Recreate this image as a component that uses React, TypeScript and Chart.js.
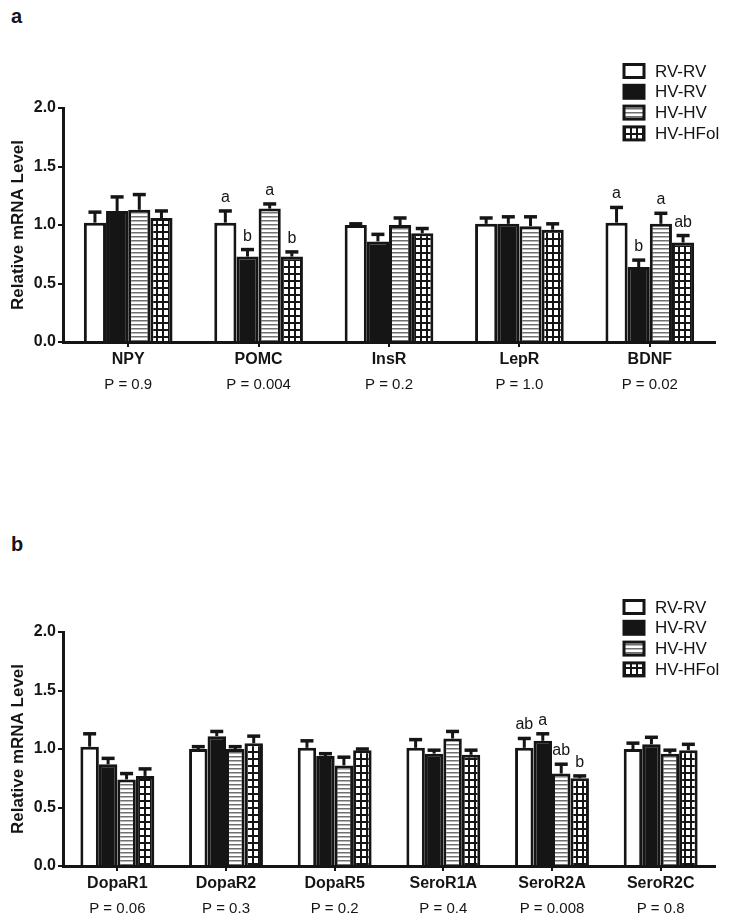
import React, { useEffect, useRef } from 'react';
import { Chart, registerables } from 'chart.js';
Chart.register(...registerables);

const FONT = '"Liberation Sans", Arial, Helvetica, sans-serif';
const INK = '#151515';

const seriesNames = ['RV-RV', 'HV-RV', 'HV-HV', 'HV-HFol'];

// Panel a
const catsA = ['NPY', 'POMC', 'InsR', 'LepR', 'BDNF'];
const pA = ['P = 0.9', 'P = 0.004', 'P = 0.2', 'P = 1.0', 'P = 0.02'];
const aRvRv = [1.02, 1.02, 1.0, 1.01, 1.02];
const aRvRvErr = [0.09, 0.1, 0.01, 0.05, 0.13];
const aHvRv = [1.12, 0.73, 0.86, 1.01, 0.64];
const aHvRvErr = [0.12, 0.06, 0.06, 0.06, 0.06];
const aHvHv = [1.13, 1.14, 1.0, 0.99, 1.01];
const aHvHvErr = [0.13, 0.04, 0.06, 0.08, 0.09];
const aHFol = [1.06, 0.73, 0.93, 0.96, 0.85];
const aHFolErr = [0.06, 0.04, 0.04, 0.05, 0.06];
const aLetRvRv = ['', 'a', '', '', 'a'];
const aLetHvRv = ['', 'b', '', '', 'b'];
const aLetHvHv = ['', 'a', '', '', 'a'];
const aLetHFol = ['', 'b', '', '', 'ab'];

// Panel b
const catsB = ['DopaR1', 'DopaR2', 'DopaR5', 'SeroR1A', 'SeroR2A', 'SeroR2C'];
const pB = ['P = 0.06', 'P = 0.3', 'P = 0.2', 'P = 0.4', 'P = 0.008', 'P = 0.8'];
const bRvRv = [1.02, 1.0, 1.01, 1.01, 1.01, 1.0];
const bRvRvErr = [0.11, 0.02, 0.06, 0.07, 0.08, 0.05];
const bHvRv = [0.87, 1.11, 0.94, 0.96, 1.07, 1.04];
const bHvRvErr = [0.05, 0.04, 0.02, 0.03, 0.06, 0.06];
const bHvHv = [0.74, 1.0, 0.86, 1.09, 0.79, 0.96];
const bHvHvErr = [0.05, 0.02, 0.07, 0.06, 0.08, 0.03];
const bHFol = [0.77, 1.05, 0.99, 0.95, 0.75, 0.99];
const bHFolErr = [0.06, 0.06, 0.01, 0.04, 0.02, 0.05];
const bLetRvRv = ['', '', '', '', 'ab', ''];
const bLetHvRv = ['', '', '', '', 'a', ''];
const bLetHvHv = ['', '', '', '', 'ab', ''];
const bLetHFol = ['', '', '', '', 'b', ''];

function makeStripe(): CanvasPattern | string {
  const c = document.createElement('canvas');
  c.width = 8;
  c.height = 4;
  const g = c.getContext('2d');
  if (!g) return '#fff';
  g.fillStyle = '#ffffff';
  g.fillRect(0, 0, 8, 4);
  g.fillStyle = '#707070';
  g.fillRect(0, 0, 8, 1.5);
  return g.createPattern(c, 'repeat') || '#fff';
}

function makeGrid(): CanvasPattern | string {
  const c = document.createElement('canvas');
  c.width = 6;
  c.height = 7;
  const g = c.getContext('2d');
  if (!g) return '#fff';
  g.fillStyle = '#ffffff';
  g.fillRect(0, 0, 6, 7);
  g.fillStyle = INK;
  g.fillRect(0, 0, 6, 2);
  g.fillRect(0, 0, 2, 7);
  return g.createPattern(c, 'repeat') || '#fff';
}

type PanelProps = {
  top: number;
  height: number;
  cats: string[];
  pvals: string[];
  values: number[][];
  errs: number[][];
  letters: string[][];
  chartTop: number;
  padBottom: number;
  legendTop: number;
};

function Panel(props: PanelProps) {
  const ref = useRef<HTMLCanvasElement | null>(null);
  useEffect(() => {
    const canvas = ref.current;
    if (!canvas) return;
    const { cats, pvals, values, errs, letters, chartTop, padBottom, legendTop } = props;
    const fills: any[] = ['#ffffff', INK, makeStripe(), makeGrid()];

    const errPlugin = {
      id: 'errbars',
      afterDatasetsDraw(chart: any) {
        const ctx = chart.ctx;
        const y = chart.scales.y;
        ctx.save();
        ctx.strokeStyle = INK;
        ctx.fillStyle = INK;
        ctx.lineCap = 'butt';
        ctx.font = `16px ${FONT}`;
        ctx.textAlign = 'center';
        ctx.textBaseline = 'alphabetic';
        values.forEach((vals, i) => {
          const meta = chart.getDatasetMeta(i);
          meta.data.forEach((el: any, j: number) => {
            const topPx = y.getPixelForValue(vals[j] + errs[i][j]);
            ctx.lineWidth = 3;
            ctx.beginPath();
            ctx.moveTo(el.x, el.y);
            ctx.lineTo(el.x, topPx);
            ctx.stroke();
            ctx.lineWidth = 3.5;
            ctx.beginPath();
            ctx.moveTo(el.x - 6.5, topPx);
            ctx.lineTo(el.x + 6.5, topPx);
            ctx.stroke();
            const t = letters[i][j];
            if (t) ctx.fillText(t, el.x, topPx - 9);
          });
        });
        ctx.restore();
      },
    };

    const legendPlugin = {
      id: 'customLegend',
      afterDraw(chart: any) {
        const ctx = chart.ctx;
        ctx.save();
        ctx.font = `17px ${FONT}`;
        ctx.textBaseline = 'middle';
        ctx.textAlign = 'left';
        seriesNames.forEach((name, i) => {
          const cy = legendTop + i * 20.8;
          const bx = 624;
          const by = cy - 6.5;
          ctx.fillStyle = fills[i];
          ctx.fillRect(bx, by, 20, 13);
          ctx.strokeStyle = INK;
          ctx.lineWidth = 3;
          ctx.strokeRect(bx, by, 20, 13);
          ctx.fillStyle = INK;
          ctx.fillText(name, 655, cy + 1);
        });
        ctx.restore();
      },
    };

    const chart = new Chart(canvas, {
      type: 'bar',
      data: {
        labels: cats,
        datasets: values.map((v, i) => ({
          label: seriesNames[i],
          data: v,
          backgroundColor: fills[i],
          borderColor: INK,
          borderWidth: 3,
          barPercentage: 1,
          categoryPercentage: 0.68,
          borderSkipped: 'bottom',
        })),
      },
      options: {
        animation: false,
        responsive: false,
        maintainAspectRatio: false,
        layout: { padding: { left: 0, right: 14, top: chartTop, bottom: padBottom } },
        plugins: { legend: { display: false }, tooltip: { enabled: false } },
        scales: {
          x: {
            type: 'category',
            grid: { offset: false, drawOnChartArea: false, tickLength: 5, lineWidth: 2, color: INK },
            border: { color: INK, width: 3 },
            ticks: {
              font: { family: FONT, size: 16, weight: 'bold' },
              color: INK,
              padding: 3,
              autoSkip: false,
              maxRotation: 0,
            },
            afterFit: (s: any) => {
              s.height = 31;
            },
          },
          x2: {
            type: 'category',
            labels: pvals,
            position: 'bottom',
            weight: 1,
            offset: true,
            grid: { display: false, drawTicks: false },
            border: { display: false },
            ticks: {
              font: { family: FONT, size: 15 },
              color: INK,
              padding: 3,
              autoSkip: false,
              maxRotation: 0,
            },
            afterFit: (s: any) => {
              s.height = 26;
            },
          },
          y: {
            min: 0,
            max: 2,
            ticks: {
              stepSize: 0.5,
              callback: (v: any) => Number(v).toFixed(1),
              font: { family: FONT, size: 16, weight: 'bold' },
              color: INK,
              padding: 2,
            },
            grid: { drawOnChartArea: false, tickLength: 5, lineWidth: 2, color: INK },
            border: { color: INK, width: 3 },
            title: {
              display: true,
              text: 'Relative mRNA Level',
              font: { family: FONT, size: 17, weight: 'bold' },
              color: INK,
              padding: { top: 8, bottom: 0 },
            },
            afterFit: (s: any) => {
              s.width = 63;
            },
          },
        },
      } as any,
      plugins: [errPlugin, legendPlugin],
    });
    return () => chart.destroy();
  }, []);

  return (
    <canvas
      ref={ref}
      width={729}
      height={props.height}
      style={{ position: 'absolute', left: 0, top: props.top, width: 729, height: props.height }}
    />
  );
}

export default function App() {
  const labelStyle: React.CSSProperties = {
    position: 'absolute',
    left: 11,
    fontFamily: FONT,
    fontWeight: 'bold',
    fontSize: 20,
    color: INK,
    lineHeight: '20px',
  };
  return (
    <div style={{ position: 'absolute', left: 0, top: 0, width: 729, height: 923, background: '#fff' }}>
      <div style={{ ...labelStyle, top: 6 }}>a</div>
      <div style={{ ...labelStyle, top: 534 }}>b</div>
      <Panel
        top={0}
        height={420}
        cats={catsA}
        pvals={pA}
        values={[aRvRv, aHvRv, aHvHv, aHFol]}
        errs={[aRvRvErr, aHvRvErr, aHvHvErr, aHFolErr]}
        letters={[aLetRvRv, aLetHvRv, aLetHvHv, aLetHFol]}
        chartTop={108}
        padBottom={21}
        legendTop={71}
      />
      <Panel
        top={520}
        height={403}
        cats={catsB}
        pvals={pB}
        values={[bRvRv, bHvRv, bHvHv, bHFol]}
        errs={[bRvRvErr, bHvRvErr, bHvHvErr, bHFolErr]}
        letters={[bLetRvRv, bLetHvRv, bLetHvHv, bLetHFol]}
        chartTop={112}
        padBottom={0}
        legendTop={87}
      />
    </div>
  );
}
